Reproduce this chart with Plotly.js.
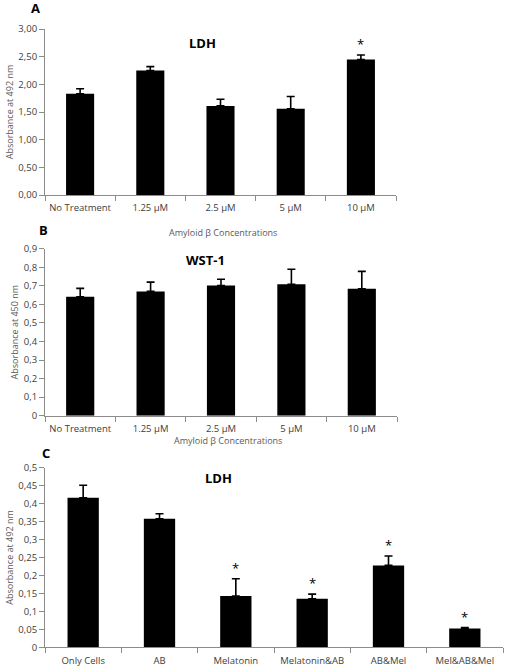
<!DOCTYPE html>
<html><head><meta charset="utf-8">
<script src="https://cdn.plot.ly/plotly-3.0.1.min.js"></script>
<style>html,body{margin:0;padding:0;background:#fff;}#chart{width:532px;height:668px;}</style>
</head><body><div id="chart"></div>
<script>
// Panel A: LDH vs Amyloid beta concentrations
const catsAB = ["No Treatment", "1.25 µM", "2.5 µM", "5 µM", "10 µM"];
const ldhA = [1.83, 2.25, 1.61, 1.56, 2.45];
const ldhAErr = [0.09, 0.07, 0.12, 0.22, 0.08];
const ldhASig = [false, false, false, false, true];
// Panel B: WST-1
const wstB = [0.641, 0.670, 0.702, 0.708, 0.684];
const wstBErr = [0.045, 0.050, 0.033, 0.081, 0.094];
// Panel C: LDH with melatonin
const catsC = ["Only Cells", "AB", "Melatonin", "Melatonin&AB", "AB&Mel", "Mel&AB&Mel"];
const ldhC = [0.416, 0.358, 0.143, 0.135, 0.228, 0.052];
const ldhCErr = [0.035, 0.014, 0.048, 0.013, 0.026, 0.003];
const ldhCSig = [false, false, true, true, true, true];

const W = 532, H = 668;
const px = v => v / W, py = v => 1 - v / H;
const tickFont = {family: "Open Sans, Liberation Sans, sans-serif", size: 9.5, color: "#404040"};
const axisTitleFont = {family: "Open Sans, Liberation Sans, sans-serif", size: 9, color: "#595959"};

function barTrace(cats, vals, errs, xa, ya) {
  return {
    type: "bar", x: cats, y: vals, xaxis: xa, yaxis: ya,
    marker: {color: "#000", line: {color: "#000", width: 0}},
    error_y: {type: "data", symmetric: false, array: errs, arrayminus: errs.map(() => 0),
              color: "#000", thickness: 1.6, width: 4},
    showlegend: false, hoverinfo: "skip"
  };
}

function xAxis(domain, anchor) {
  return {domain: domain, anchor: anchor, type: "category", tickson: "boundaries", tickangle: 0,
    ticks: "outside", ticklen: 5, tickcolor: "#8c8c8c", showline: true, linecolor: "#8c8c8c",
    ticklabelstandoff: 4,
    linewidth: 1, showgrid: false, zeroline: false, tickfont: tickFont, fixedrange: true};
}
function yAxis(domain, anchor, range, dtick, fmt, title) {
  return {domain: domain, anchor: anchor, range: range, dtick: dtick, tick0: 0, tickformat: fmt,
    ticks: "outside", ticklen: 5, tickcolor: "#8c8c8c", showline: true, linecolor: "#8c8c8c",
    linewidth: 1, showgrid: false, zeroline: false, tickfont: tickFont, fixedrange: true,
    title: {text: title, font: axisTitleFont, standoff: 3}};
}

const traces = [
  barTrace(catsAB, ldhA, ldhAErr, "x", "y"),
  barTrace(catsAB, wstB, wstBErr, "x2", "y2"),
  barTrace(catsC, ldhC, ldhCErr, "x3", "y3")
];
traces.forEach(t => { t.width = 0.4; });
traces[2].width = 0.41;

const annotations = [];
const lab = (text, x, y, size) => annotations.push({text: "<b>" + text + "</b>", xref: "paper", yref: "paper",
  x: px(x), y: py(y), showarrow: false, xanchor: "center", yanchor: "middle",
  font: {family: "Open Sans, Liberation Sans, sans-serif", size: size, color: "#000"}});
lab("A", 35, 8, 13); lab("B", 43, 230, 13); lab("C", 46, 453, 13);
lab("LDH", 202, 43, 13); lab("WST-1", 205, 260, 13); lab("LDH", 218, 478, 13);
const xt = (text, x, y) => annotations.push({text: text, xref: "paper", yref: "paper", x: px(x), y: py(y),
  showarrow: false, xanchor: "center", yanchor: "middle", font: axisTitleFont});
xt("Amyloid β Concentrations", 223, 232);
xt("Amyloid β Concentrations", 228, 440);

function stars(cats, vals, errs, sig, xa, ya) {
  cats.forEach((c, i) => {
    if (!sig[i]) return;
    annotations.push({text: "*", x: c, y: vals[i] + errs[i], xref: xa, yref: ya, showarrow: false,
      yanchor: "middle", yshift: 11, font: {family: "Open Sans, sans-serif", size: 13, color: "#000"}});
  });
}
stars(catsAB, ldhA, ldhAErr, ldhASig, "x", "y");
stars(catsC, ldhC, ldhCErr, ldhCSig, "x3", "y3");

const layout = {
  width: W, height: H, margin: {l: 0, r: 0, t: 0, b: 0},
  paper_bgcolor: "#fff", plot_bgcolor: "#fff", separators: ",.",
  bargap: 0.6,
  xaxis: xAxis([px(45), px(396)], "y"),
  yaxis: yAxis([py(195), py(29)], "x", [0, 3], 0.5, ".2f", "Absorbance at 492 nm"),
  xaxis2: xAxis([px(45), px(397)], "y2"),
  yaxis2: yAxis([py(415.7), py(248.7)], "x2", [0, 0.9], 0.1, "", "Absorbance at 450 nm"),
  xaxis3: xAxis([px(45), px(503)], "y3"),
  yaxis3: yAxis([py(647.3), py(467.7)], "x3", [0, 0.5], 0.05, "", "Absorbance at 492 nm"),
  annotations: annotations
};
Plotly.newPlot("chart", traces, layout, {displayModeBar: false, staticPlot: true});
</script></body></html>
